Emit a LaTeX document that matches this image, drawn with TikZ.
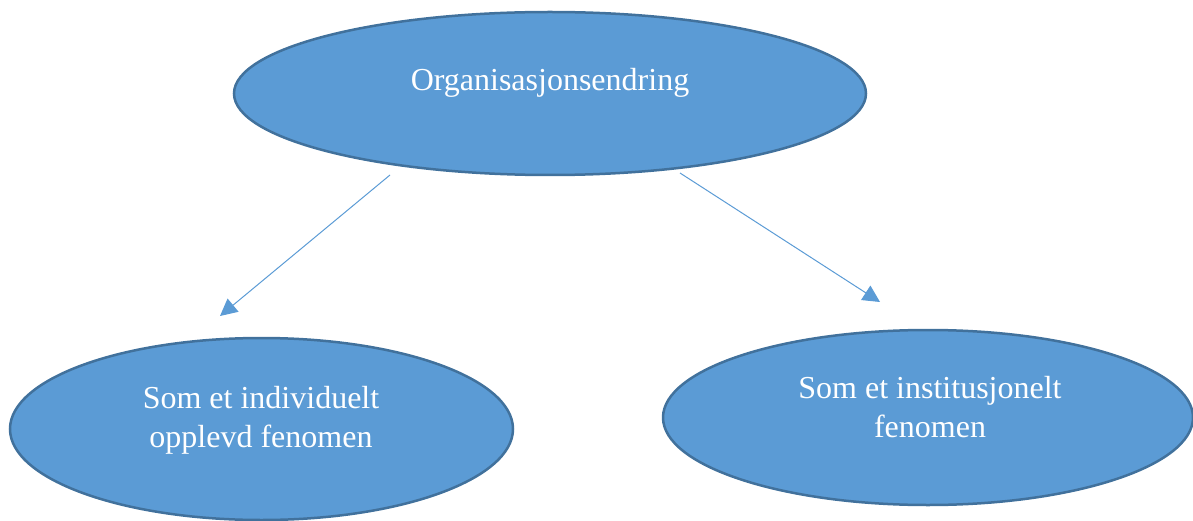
\documentclass[tikz,border=0pt]{standalone}
\usepackage{fontspec}
\setmainfont{Liberation Serif}
\usetikzlibrary{arrows.meta,shapes.geometric}
\definecolor{fillblue}{HTML}{5B9BD5}
\definecolor{edgeblue}{HTML}{41719C}

\begin{document}
\begin{tikzpicture}[
			x=1pt, y=-1pt,
			font=\fontsize{32}{39}\selectfont,
			oval/.style={ellipse, draw=edgeblue, line width=2.5pt, fill=fillblue,
				text=white, align=center, inner sep=0pt},
			arr/.style={-{Triangle[length=17pt,width=17pt]}, draw=fillblue, line width=1pt}
			]
			\useasboundingbox (0,0) rectangle (1193,521);

			\node[oval, minimum width=632pt, minimum height=163pt] (change) at (550,93.5) {};
			\node[oval, minimum width=503pt, minimum height=182pt] (indiv) at (261.5,429) {};
			\node[oval, minimum width=530pt, minimum height=175pt] (inst) at (928,417.5) {};

			\node[text=white] (changetxt) at (550,83) {Organisasjonsendring};
			\node[text=white, align=center] (indivtxt) at (261,420) {Som et individuelt\\opplevd fenomen};
			\node[text=white, align=center] (insttxt) at (930,407) {Som et institusjonelt\\fenomen};

			\coordinate (lstart) at (390,175);
			\coordinate (lend) at (220,316);
			\coordinate (rstart) at (680,173);
			\coordinate (rend) at (880,302);

			\draw[arr] (lstart) -- (lend);
			\draw[arr] (rstart) -- (rend);
		\end{tikzpicture}
\end{document}
